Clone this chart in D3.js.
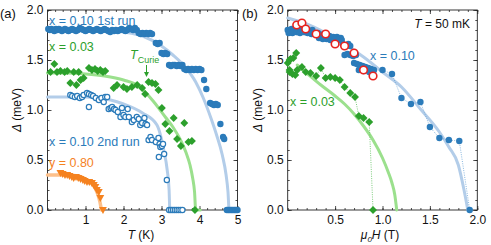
<!DOCTYPE html>
<html><head><meta charset="utf-8">
<script src="https://cdn.jsdelivr.net/npm/d3@7"></script>
<style>body{margin:0;background:#fff}svg{display:block}text{font-family:"Liberation Sans",Arial,sans-serif}</style>
</head><body><svg id="c" width="491" height="245"></svg>
<script>
// ---------- Panel (a): gap vs temperature ----------
const run1T = [0.02,0.06,0.1,0.14,0.18,0.22,0.26,0.3,0.34,0.38,0.42,0.46,0.5,0.55,0.6,0.65,0.7,0.75,0.8,0.85,0.9,0.95,1.0,1.05,1.1,1.15,1.2,1.25,1.3,1.35,1.4,1.45,1.5,1.55,1.6,1.65,1.7,1.75,1.8,1.85,1.9,1.95,2.0,2.05,2.1,2.15,2.2,2.25,2.3,2.35,2.4,2.45,2.5,2.55,2.6,2.65,2.7,2.75,2.85,2.9,2.95,3.0,3.05,3.1,3.15,3.2,3.25,3.3,3.35,3.4,3.45,3.5,3.55,3.6,3.65,3.7,3.75,3.8,3.85,3.9,3.95,4.0,4.05,4.12,4.18,4.28,4.33,4.38,4.43,4.48,4.55,4.62,4.65,4.72,4.76,4.8,4.84,4.88,4.92,4.96,5.0];
const run1D = [1.81,1.80,1.81,1.80,1.79,1.81,1.80,1.81,1.80,1.79,1.80,1.81,1.80,1.79,1.80,1.81,1.80,1.79,1.80,1.82,1.81,1.80,1.79,1.80,1.81,1.80,1.79,1.80,1.81,1.80,1.79,1.80,1.81,1.80,1.79,1.78,1.80,1.79,1.80,1.79,1.80,1.81,1.80,1.79,1.80,1.82,1.81,1.80,1.82,1.80,1.77,1.76,1.77,1.76,1.77,1.76,1.77,1.76,1.67,1.66,1.67,1.57,1.56,1.57,1.56,1.45,1.44,1.45,1.45,1.44,1.45,1.44,1.45,1.41,1.40,1.41,1.40,1.41,1.40,1.41,1.40,1.41,1.40,1.30,1.21,1.07,1.06,1.05,1.06,1.05,0.86,0.73,0.71,0,0,0,0,0,0,0,0];
const run1FitT = [0,0.5,1,1.5,2,2.5,3,3.3,3.6,3.9,4.1,4.3,4.45,4.6,4.7,4.75,4.78,5.0];
const run1FitD = [1.82,1.82,1.81,1.80,1.78,1.74,1.64,1.55,1.44,1.28,1.12,0.92,0.75,0.55,0.35,0.18,0,0];

const x03T = [0.08,0.18,0.25,0.34,0.45,0.52,0.60,0.69,0.76,0.82,0.87,0.95,1.09,1.17,1.25,1.32,1.39,1.46,1.52,1.74,1.83,2.0,2.09,2.22,2.36,2.49,2.57,2.66,2.75,2.84,2.92,3.01,3.10,3.21,3.32,3.41,3.51,3.60,3.71,3.80,3.88];
const x03D = [1.38,1.46,1.38,1.39,1.38,1.39,1.27,1.38,1.25,1.38,1.30,1.32,1.42,1.40,1.41,1.39,1.40,1.38,1.39,1.22,1.25,1.23,1.21,1.23,1.25,1.22,1.16,1.28,1.27,1.26,1.20,1.02,0.86,0.79,0.92,0.71,0.64,0.87,0.68,0.69,0];
const x03FitT = [0,0.5,1,1.5,2,2.4,2.8,3.1,3.3,3.5,3.65,3.75,3.82,3.87,3.9,4.02];
const x03FitD = [1.37,1.37,1.36,1.34,1.30,1.24,1.08,0.93,0.83,0.70,0.57,0.45,0.32,0.18,0,0];

const run2T = [0.6,0.65,0.72,0.78,0.85,0.91,0.95,1.04,1.09,1.09,1.15,1.2,1.27,1.35,1.42,1.48,1.52,1.57,1.61,1.66,1.70,1.75,1.79,1.85,1.92,1.96,2.0,2.05,2.11,2.14,2.22,2.27,2.35,2.40,2.44,2.49,2.55,2.58,2.62,2.66,2.71,2.75,2.85,2.92,2.95,2.97,3.01,3.04,2.93,3.07,3.14,3.2,3.25,3.3,3.35,3.4,3.45,3.5,3.55];
const run2D = [1.15,1.14,1.13,1.14,1.12,1.13,1.15,1.17,1.16,1.03,1.15,1.14,1.12,1.10,1.12,1.08,1.13,1.13,1.01,1.02,1.03,1.01,1.00,0.98,0.93,1.02,0.95,0.93,1.01,0.93,0.88,0.90,0.93,0.91,0.85,0.87,0.92,0.86,0.85,0.70,0.73,0.70,0.68,0.72,0.66,0.63,0.64,0.66,0.53,0.56,0.30,0,0,0,0,0,0,0,0];
const run2FitT = [0,0.5,1,1.66,2.0,2.5,2.88,3.06,3.15,3.2,3.22,3.55];
const run2FitD = [1.13,1.13,1.13,1.10,1.06,0.97,0.85,0.60,0.40,0.20,0,0];

const y80T = [0.34,0.40,0.46,0.52,0.58,0.64,0.69,0.75,0.81,0.87,0.93,0.98,1.04,1.10,1.17,1.22,1.26,1.30,1.35,1.39,1.46];
const y80D = [0.37,0.36,0.35,0.35,0.34,0.33,0.32,0.33,0.32,0.31,0.30,0.29,0.28,0.28,0.27,0.25,0.23,0.20,0.18,0.12,0];
const y80FitT = [0,0.5,0.8,1.0,1.15,1.25,1.33,1.38,1.42];
const y80FitD = [0.35,0.35,0.34,0.31,0.27,0.22,0.15,0.08,0];

// ---------- Panel (b): gap vs field, T = 50 mK ----------
const b10H = [0,0.02,0.04,0.06,0.08,0.10,0.12,0.14,0.16,0.18,0.2,0.22,0.24,0.26,0.28,0.01,0.05,0.09,0.13,0.17,0.21,0.25,0.30,0.32,0.34,0.36,0.38,0.40,0.42,0.44,0.46,0.48,0.50,0.52,0.54,0.56,0.33,0.37,0.41,0.45,0.49,0.53,0.57,0.58,0.60,0.62,0.64,0.66,0.60,0.63,0.66,0.69,0.72,0.70,0.73,0.76,0.79,0.82,0.85,0.88,0.91,0.75,0.80,0.86,0.90,1.0,1.1,1.2,1.3,1.4,1.5,1.6,1.7,1.81,1.92];
const b10D = [1.80,1.78,1.81,1.79,1.80,1.78,1.80,1.79,1.81,1.78,1.80,1.79,1.78,1.80,1.77,1.77,1.77,1.78,1.77,1.78,1.77,1.76,1.76,1.77,1.75,1.74,1.76,1.74,1.73,1.74,1.72,1.73,1.72,1.73,1.71,1.72,1.72,1.71,1.71,1.70,1.70,1.70,1.70,1.66,1.65,1.64,1.66,1.64,1.55,1.56,1.55,1.54,1.55,1.47,1.46,1.45,1.44,1.43,1.42,1.41,1.40,1.40,1.39,1.38,1.37,1.40,1.36,1.12,1.06,1.08,0.83,0.72,0.70,0.69,0];
const bDotH = [0.91,1.0,1.1,1.2,1.3,1.4,1.5,1.6,1.7,1.81,1.92];
const bDotD = [1.40,1.40,1.36,1.12,1.06,1.08,0.83,0.72,0.70,0.69,0];
const bFitH = [0,0.2,0.4,0.6,0.8,1.0,1.2,1.4,1.6,1.7,1.8,1.86,1.9];
const bFitD = [1.92,1.86,1.77,1.66,1.53,1.38,1.23,1.01,0.78,0.63,0.45,0.20,0];
const redH = [0.095,0.15,0.19,0.30,0.40,0.50,0.60,0.70,0.80,0.90];
const redD = [1.85,1.87,1.81,1.76,1.76,1.66,1.64,1.57,1.40,1.34];
const b03H = [0.0,0.02,0.02,0.03,0.06,0.09,0.02,0.05,0.08,0.10,0.15,0.19,0.24,0.30,0.35,0.40,0.45,0.50,0.55,0.60,0.66,0.71,0.75,0.80,0.86,0.90];
const b03D = [1.47,1.50,1.40,1.51,1.52,1.57,1.38,1.36,1.35,1.40,1.43,1.38,1.37,1.34,1.42,1.32,1.33,1.32,1.30,1.23,1.17,1.13,0.94,0.92,0.88,0];
const b03FitH = [0.1,0.2,0.35,0.5,0.6,0.7,0.8,0.9,1.0,1.06,1.1,1.13,1.15];
const b03FitD = [1.45,1.37,1.25,1.14,1.06,0.96,0.84,0.70,0.52,0.38,0.27,0.15,0];

const yTicks = [0, 0.5, 1.0, 1.5, 2.0];
const aXTicks = [1, 2, 3, 4, 5];
const bXTicks = [0.5, 1.0, 1.5, 2.0];

// ---------- colours ----------
const C = {blue:"#2b7bba", lblue:"#b3cde9", green:"#2ca02c", lgreen:"#9be08d", orange:"#f5821f", lorange:"#fdc08a", red:"#e8231f", frame:"#222"};

const svg = d3.select("#c");
const zip = (a,b) => a.map((v,i)=>[v,b[i]]);

const ya = d3.scaleLinear([0,2],[210,10]);
const xa = d3.scaleLinear([0,5],[47.5,237.5]);
const xb = d3.scaleLinear([0,2],[287.7,477.3]);

function frame(x, xMaj, xMin, xFmt) {
  const g = svg.append("g");
  const [x0,x1] = x.range(), [y0,y1] = ya.range();
  const ax = (gen, tr) => {
    const s = g.append("g").attr("transform", tr).call(gen);
    s.select(".domain").remove();
    s.selectAll("line").attr("stroke", C.frame).attr("stroke-width", 0.8);
    s.selectAll("text").attr("font-size", 12).attr("fill", "#111").attr("font-family", '"Liberation Sans",Arial,sans-serif');
    return s;
  };
  ax(d3.axisBottom(x).tickValues(xMaj).tickSize(-4).tickPadding(5).tickFormat(xFmt), `translate(0,${y0})`);
  ax(d3.axisBottom(x).tickValues(xMin).tickSize(-2).tickFormat(""), `translate(0,${y0})`);
  ax(d3.axisTop(x).tickValues(xMaj).tickSize(-4).tickFormat(""), `translate(0,${y1})`);
  ax(d3.axisTop(x).tickValues(xMin).tickSize(-2).tickFormat(""), `translate(0,${y1})`);
  ax(d3.axisLeft(ya).tickValues(yTicks).tickSize(-4).tickPadding(4).tickFormat(d3.format(".1f")), `translate(${x0},0)`);
  ax(d3.axisLeft(ya).tickValues(d3.range(0,2.001,0.1)).tickSize(-2).tickFormat(""), `translate(${x0},0)`);
  ax(d3.axisRight(ya).tickValues(yTicks).tickSize(-4).tickFormat(""), `translate(${x1},0)`);
  ax(d3.axisRight(ya).tickValues(d3.range(0,2.001,0.1)).tickSize(-2).tickFormat(""), `translate(${x1},0)`);
  g.append("rect").attr("x", x0).attr("y", y1).attr("width", x1-x0).attr("height", y0-y1)
    .attr("fill","none").attr("stroke", C.frame).attr("stroke-width", 0.9);
}

function fit(x, xs, ys, col, w) {
  svg.append("path").datum(zip(xs,ys))
    .attr("d", d3.line().x(d=>x(d[0])).y(d=>ya(d[1])).curve(d3.curveMonotoneX))
    .attr("fill","none").attr("stroke", col).attr("stroke-width", w||3).attr("stroke-linecap","round");
}
function dotted(x, xs, ys, col) {
  svg.append("path").datum(zip(xs,ys))
    .attr("d", d3.line().x(d=>x(d[0])).y(d=>ya(d[1])))
    .attr("fill","none").attr("stroke", col).attr("stroke-width", 0.8).attr("stroke-dasharray","1,1.3");
}
function circles(x, xs, ys, r, fill, stroke, sw) {
  svg.append("g").selectAll("circle").data(zip(xs,ys)).join("circle")
    .attr("cx", d=>x(d[0])).attr("cy", d=>ya(d[1])).attr("r", r)
    .attr("fill", fill).attr("stroke", stroke||"none").attr("stroke-width", sw||0);
}
function symbols(x, xs, ys, type, size, fill) {
  svg.append("g").selectAll("path").data(zip(xs,ys)).join("path")
    .attr("transform", d=>`translate(${x(d[0])},${ya(d[1])})`)
    .attr("d", d3.symbol().type(type).size(size)).attr("fill", fill);
}
const diamond = { draw(ctx, size) { const r = Math.sqrt(size)/1.6; ctx.moveTo(0,-r); ctx.lineTo(r,0); ctx.lineTo(0,r); ctx.lineTo(-r,0); ctx.closePath(); } };
const triDown = { draw(ctx, size) { const r = Math.sqrt(size)/1.9; ctx.moveTo(-r,-r*0.8); ctx.lineTo(r,-r*0.8); ctx.lineTo(0,r); ctx.closePath(); } };

// ---- panel (a)
frame(xa, aXTicks, d3.range(0,5.001,0.2), d3.format("d"));
fit(xa, run1FitT, run1FitD, C.lblue);
fit(xa, x03FitT, x03FitD, C.lgreen);
fit(xa, run2FitT, run2FitD, C.lblue);
fit(xa, y80FitT, y80FitD, C.lorange, 3.5);
circles(xa, run1T, run1D, 3.2, C.blue);
symbols(xa, x03T, x03D, diamond, 40, C.green);
circles(xa, run2T, run2D, 2.6, "#fff", C.blue, 1.2);
symbols(xa, y80T, y80D, triDown, 55, C.orange);

// ---- panel (b)
frame(xb, bXTicks, d3.range(0,2.001,0.1), d3.format(".1f"));
fit(xb, bFitH, bFitD, C.lblue);
fit(xb, b03FitH, b03FitD, C.lgreen);
dotted(xb, bDotH, bDotD, "#6aa3d5");
dotted(xb, b03H.slice(10), b03D.slice(10), "#5cbf5c");
circles(xb, b10H, b10D, 3.2, C.blue);
symbols(xb, b03H, b03D, diamond, 40, C.green);
circles(xb, redH, redD, 3.8, "#fff", C.red, 1.6);

// ---- texts
function txt(x, y, s, col, size, anchor) {
  return svg.append("text").attr("x", x).attr("y", y).attr("fill", col).attr("font-size", size||12.5)
    .attr("text-anchor", anchor||"start").text(s);
}
txt(0, 18, "(a)", "#111", 13);
txt(242, 18, "(b)", "#111", 13);
txt(49, 25, "x = 0.10 1st run", C.blue);
txt(49, 51, "x = 0.03", C.green);
txt(49, 146, "x = 0.10 2nd run", C.blue);
txt(49, 167, "y = 0.80", C.orange);
const tc = svg.append("text").attr("x", 130).attr("y", 59).attr("fill", C.green).attr("font-size", 12.5);
tc.append("tspan").attr("font-style","italic").text("T");
tc.append("tspan").attr("font-size", 9).attr("dy", 4).text("Curie");
svg.append("line").attr("x1",146.5).attr("y1",65).attr("x2",146.5).attr("y2",73).attr("stroke",C.green).attr("stroke-width",1);
svg.append("path").attr("d","M144,72 L149,72 L146.5,77 Z").attr("fill",C.green);

txt(370, 60, "x = 0.10", C.blue);
txt(290, 106, "x = 0.03", C.green);
const tt = svg.append("text").attr("x", 470).attr("y", 28).attr("fill","#111").attr("font-size", 12).attr("text-anchor","end");
tt.append("tspan").attr("font-style","italic").text("T");
tt.append("tspan").text(" = 50 mK");

// axis titles
const ylab = (x) => {
  const t = svg.append("text").attr("transform", `translate(${x},110) rotate(-90)`).attr("text-anchor","middle").attr("font-size", 12).attr("fill","#111");
  t.append("tspan").attr("font-style","italic").text("Δ");
  t.append("tspan").text(" (meV)");
};
ylab(21); ylab(262);
const xl = svg.append("text").attr("x", 141).attr("y", 239).attr("text-anchor","middle").attr("font-size",12).attr("fill","#111");
xl.append("tspan").attr("font-style","italic").text("T");
xl.append("tspan").text(" (K)");
const xl2 = svg.append("text").attr("x", 380).attr("y", 239).attr("text-anchor","middle").attr("font-size",12).attr("fill","#111");
xl2.append("tspan").attr("font-style","italic").text("μ");
xl2.append("tspan").attr("font-style","italic").attr("font-size",8).attr("dy",3).text("0");
xl2.append("tspan").attr("font-style","italic").attr("dy",-3).text("H");
xl2.append("tspan").text(" (T)");
</script></body></html>
